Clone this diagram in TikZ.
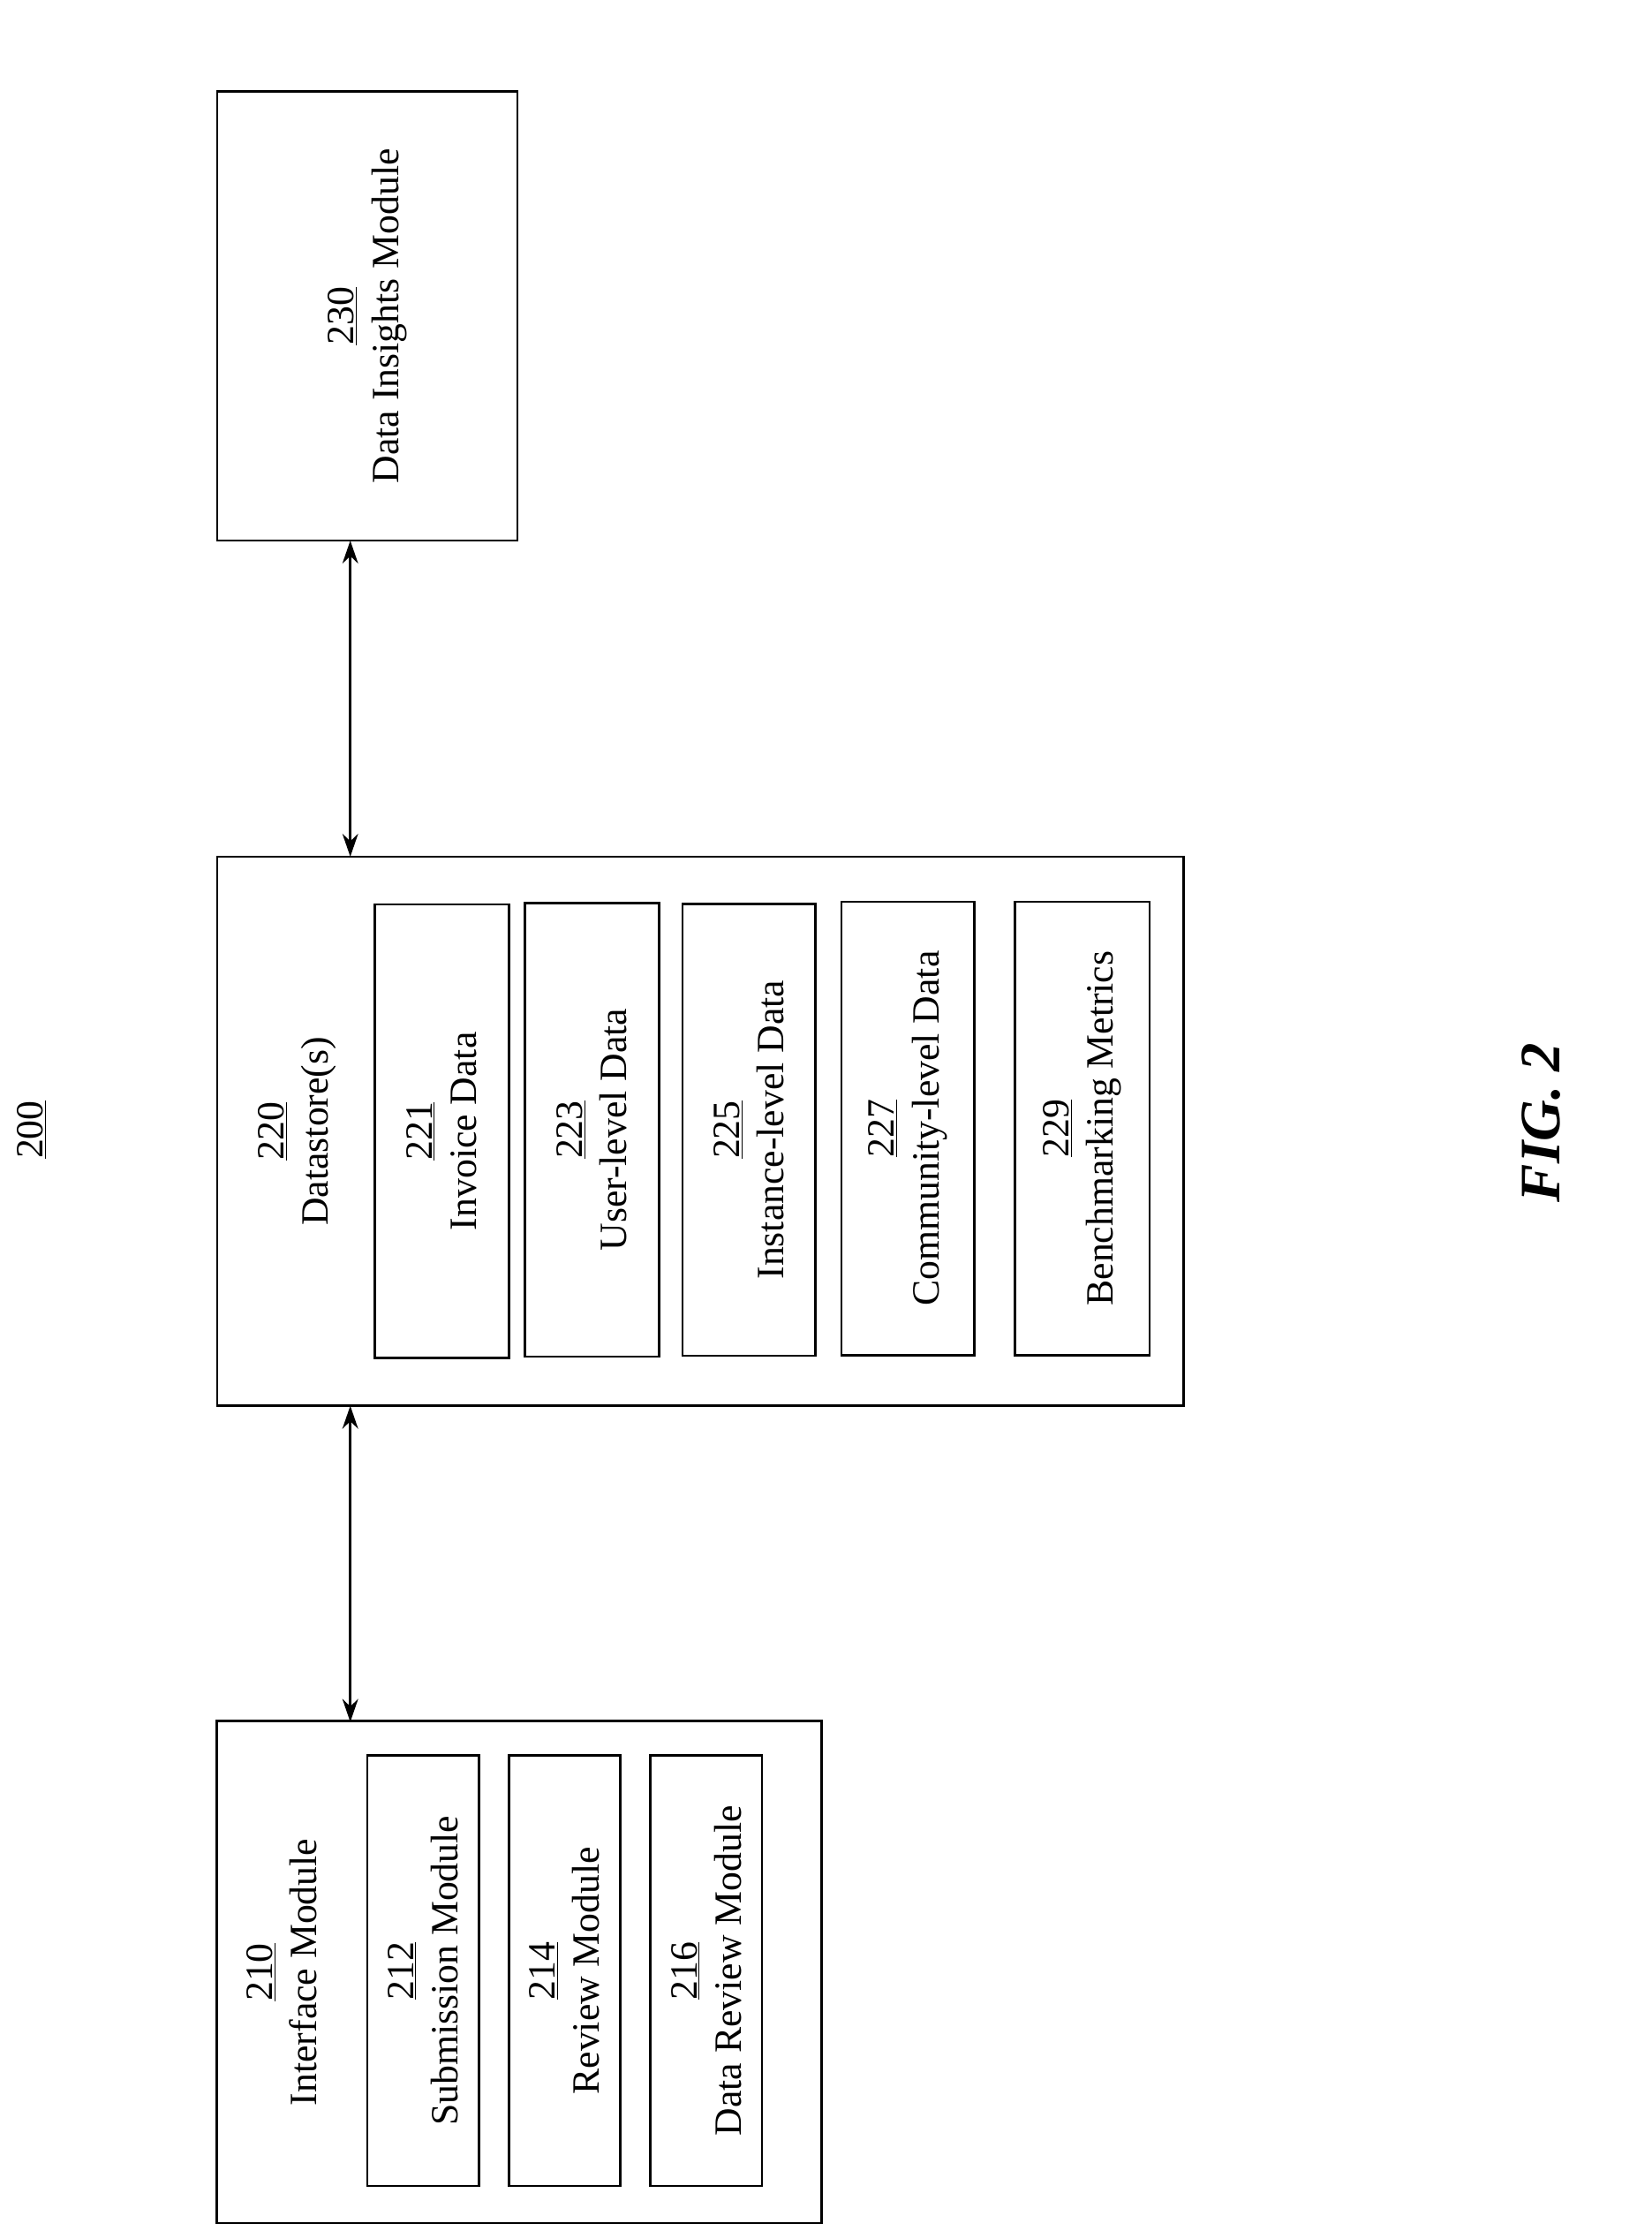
\documentclass[tikz,border=0pt]{standalone}
\usepackage{fontspec}
\setmainfont{Liberation Serif}
\usetikzlibrary{positioning, arrows.meta}
\begin{document}
\begin{tikzpicture}[x=1pt,y=1pt,yscale=-1,
  box/.style={draw, line width=1.6pt, inner sep=0pt},
  lbl/.style={rotate=90, align=center, font=\fontsize{27}{31}\selectfont, inner sep=0pt},
  link/.style={line width=1.6pt, {Stealth[length=16pt,width=11pt]}-{Stealth[length=16pt,width=11pt]}}]
  \useasboundingbox (0,0) rectangle (1155,1560);

  % figure number
  \node[lbl] (num) at (22,790) {\underline{200}};

  % data insights
  \node[box, minimum width=210pt, minimum height=314pt] (insights) at (257,221) {};
  \node[lbl] (insightsl) at (insights) {\underline{230}\\Data Insights Module};

  % datastore
  \node[box, minimum width=676pt, minimum height=384pt] (store) at (490,791) {};
  \node[lbl] (storel) at (208,791) {\underline{220}\\Datastore(s)};
  \node[box, minimum width=94pt, minimum height=317pt] (invoice) at (309,791) {};
  \node[lbl] at (invoice) {\underline{221}\\Invoice Data};
  \node[box, minimum width=94pt, minimum height=317pt] (user) at (414,790) {};
  \node[lbl] at (user) {\underline{223}\\User-level Data};
  \node[box, minimum width=93pt, minimum height=316pt] (instance) at (524,790) {};
  \node[lbl] at (instance) {\underline{225}\\Instance-level Data};
  \node[box, minimum width=93pt, minimum height=317pt] (community) at (635,789) {};
  \node[lbl] at (community) {\underline{227}\\Community-level Data};
  \node[box, minimum width=94pt, minimum height=317pt] (bench) at (757,789) {};
  \node[lbl] at (bench) {\underline{229}\\Benchmarking Metrics};

  % interface
  \node[box, minimum width=423pt, minimum height=351pt] (iface) at (363,1379) {};
  \node[lbl] (ifacel) at (197,1379) {\underline{210}\\Interface Module};
  \node[box, minimum width=78pt, minimum height=301pt] (submit) at (296,1378) {};
  \node[lbl] at (submit) {\underline{212}\\Submission Module};
  \node[box, minimum width=78pt, minimum height=301pt] (review) at (395,1378) {};
  \node[lbl] at (review) {\underline{214}\\Review Module};
  \node[box, minimum width=78pt, minimum height=301pt] (dreview) at (494,1378) {};
  \node[lbl] at (dreview) {\underline{216}\\Data Review Module};

  % connectors
  \coordinate (a1) at (245,378);
  \coordinate (a2) at (245,599);
  \coordinate (b1) at (245,983);
  \coordinate (b2) at (245,1204);
  \draw[link] (a1) -- (a2);
  \draw[link] (b1) -- (b2);

  \node[rotate=90, font=\fontsize{40}{44}\selectfont\bfseries\itshape] (fig) at (1078,785) {FIG. 2};
\end{tikzpicture}
\end{document}
